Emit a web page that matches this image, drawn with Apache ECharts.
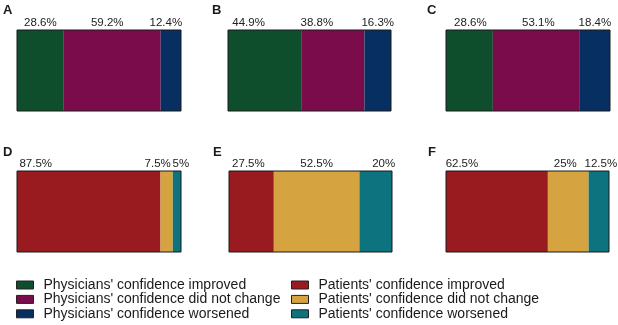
<!DOCTYPE html>
<html>
<head>
<meta charset="utf-8">
<script src="https://cdn.jsdelivr.net/npm/echarts@6/dist/echarts.min.js"></script>
<style>html,body{margin:0;padding:0;background:#fff;}#c{width:618px;height:325px;}</style>
</head>
<body>
<div id="c"></div>
<script>
// ---- data ----
const panelLetters = ['A', 'B', 'C', 'D', 'E', 'F'];
const physicianNames = ["Physicians' confidence improved", "Physicians' confidence did not change", "Physicians' confidence worsened"];
const patientNames = ["Patients' confidence improved", "Patients' confidence did not change", "Patients' confidence worsened"];
// panels A, B, C
const physImproved = [28.6, 44.9, 28.6];
const physNoChange = [59.2, 38.8, 53.1];
const physWorsened = [12.4, 16.3, 18.4];
// panels D, E, F
const patImproved = [87.5, 27.5, 62.5];
const patNoChange = [7.5, 52.5, 25];
const patWorsened = [5, 20, 12.5];

// ---- layout / style ----
const physColors = ['#0f4e2c', '#7a0c4c', '#072f62'];
const patColors = ['#9a1b1f', '#d5a441', '#0d737e'];
const font = "'Liberation Sans', Arial, sans-serif";
const boxes = [
  {left: 17, top: 30, width: 164, height: 81},
  {left: 228, top: 30, width: 163, height: 81},
  {left: 446, top: 30, width: 164, height: 81},
  {left: 17, top: 171, width: 164, height: 81},
  {left: 229, top: 171, width: 163, height: 81},
  {left: 446, top: 171, width: 163, height: 81}
];
const letterPos = [[3, 4], [212, 4], [427, 4], [3, 146], [213, 146], [428, 146]];
const labelNudge = [[0, -5, -5], [-16, -16, 0], [1, 2, 0], [-53, -9, 4], [-3, 0, 8], [-35, -3, 2]];

const grids = [], xAxes = [], yAxes = [], series = [], titles = [];
panelLetters.forEach((L, p) => {
  const b = boxes[p];
  grids.push({left: b.left, top: b.top, width: b.width, height: b.height, show: true,
    backgroundColor: 'transparent', borderColor: '#1a1a1a', borderWidth: 1, z: 10});
  xAxes.push({type: 'value', gridIndex: p, min: 0, max: v => Math.max(100, v.max), show: false});
  yAxes.push({type: 'category', gridIndex: p, data: [L], show: false, boundaryGap: true});
  titles.push({text: L, left: letterPos[p][0], top: letterPos[p][1], padding: 0,
    textStyle: {fontSize: 13, fontWeight: 'bold', fontFamily: font, color: '#1a1a1a'}});
  const isPhys = p < 3;
  const k = isPhys ? p : p - 3;
  const names = isPhys ? physicianNames : patientNames;
  const colors = isPhys ? physColors : patColors;
  const vals = isPhys ? [physImproved[k], physNoChange[k], physWorsened[k]]
                      : [patImproved[k], patNoChange[k], patWorsened[k]];
  vals.forEach((v, s) => {
    series.push({
      type: 'bar', name: names[s], xAxisIndex: p, yAxisIndex: p, stack: 'p' + p,
      barWidth: '100%', data: [v], z: 2,
      itemStyle: {color: colors[s]},
      label: {show: true, position: 'top', distance: 1, offset: [labelNudge[p][s], 0],
        formatter: d => d.value + '%', fontSize: 11.5, fontFamily: font, color: '#222'},
      emphasis: {disabled: true}, animation: false
    });
  });
});

const legendCommon = {orient: 'vertical', itemWidth: 17, itemHeight: 8, itemGap: 0.4,
  icon: 'rect', selectedMode: false, padding: 0, height: 60,
  itemStyle: {borderColor: '#222', borderWidth: 1},
  textStyle: {fontSize: 14, fontFamily: font, color: '#1a1a1a', padding: [0, 0, 0, 5]}};

const option = {
  animation: false,
  title: titles,
  grid: grids, xAxis: xAxes, yAxis: yAxes, series: series,
  legend: [
    Object.assign({left: 16, top: 278, data: physicianNames}, legendCommon),
    Object.assign({left: 291, top: 278, data: patientNames}, legendCommon)
  ]
};
const chart = echarts.init(document.getElementById('c'), null, {renderer: 'canvas'});
chart.setOption(option);
</script>
</body>
</html>
